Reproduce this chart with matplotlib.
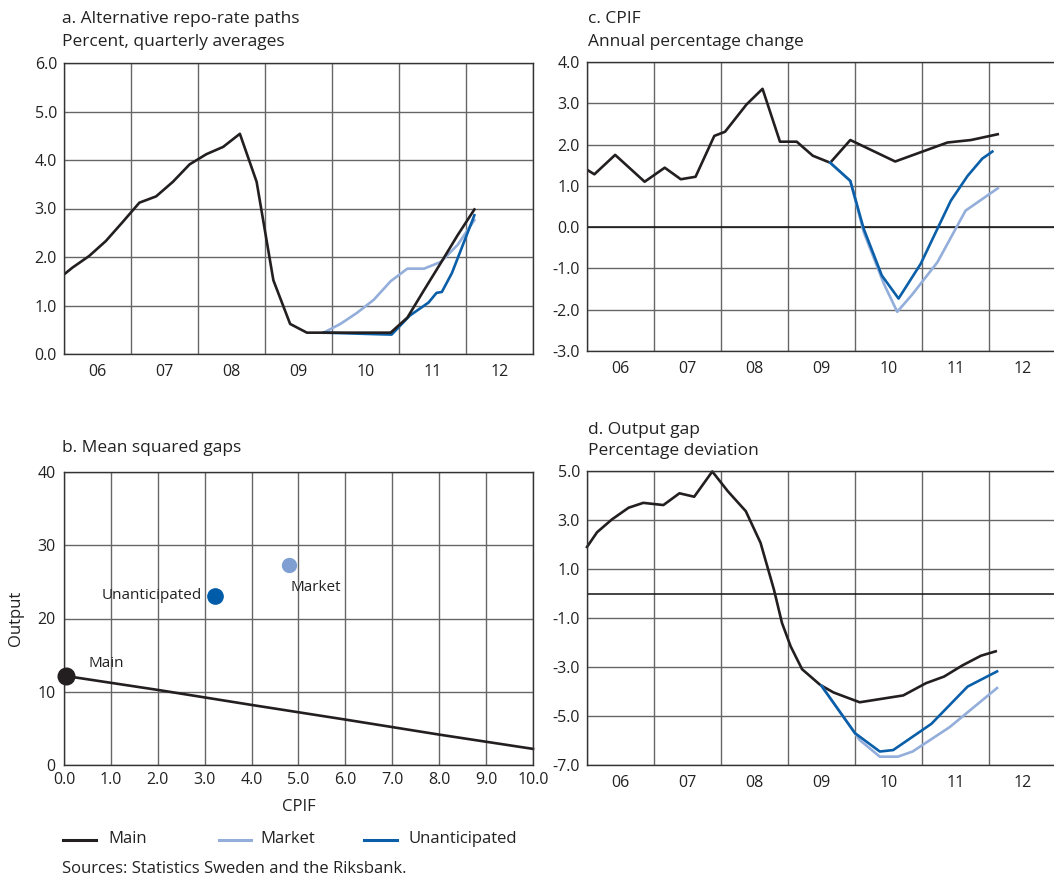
import matplotlib
matplotlib.use("Agg")
from matplotlib import pyplot as plt
from matplotlib.lines import Line2D

plt.rcParams['font.family'] = ['Open Sans', 'DejaVu Sans']

# colours
C_MAIN = '#231f20'
C_MARKET = '#93aedb'
C_UNANT = '#0a5fa8'
C_GRID = '#666666'

# ---- a. repo-rate paths (quarterly averages, mid-quarter positions)
rate_x = [2005.875 + 0.25 * i for i in range(26)]
rate_main = [1.50, 1.78, 2.02, 2.33, 2.72, 3.12, 3.25, 3.55, 3.91, 4.12, 4.27, 4.54, 3.55,
             1.52, 0.62, 0.44, 0.44, 0.44, 0.44, 0.44, 0.44, 0.75, 1.32, 1.88, 2.45, 2.98]
rate_market_x = rate_x[16:]
rate_market = [0.44, 0.62, 0.85, 1.12, 1.50, 1.76, 1.76, 1.90, 2.25, 2.76]
rate_unant_x = [2009.875, 2010.125, 2010.375, 2010.625, 2010.89, 2011.16, 2011.44,
                2011.56, 2011.64, 2011.79, 2012.125]
rate_unant = [0.44, 0.43, 0.42, 0.41, 0.40, 0.79, 1.06, 1.26, 1.28, 1.67, 2.86]

# ---- c. CPIF
cpif_x = [2006.0, 2006.11, 2006.42, 2006.86, 2007.16, 2007.40, 2007.62, 2007.90, 2008.06,
          2008.38, 2008.62, 2008.88, 2009.13, 2009.37, 2009.63, 2009.93, 2010.60, 2011.38,
          2011.73, 2012.13]
cpif_main = [1.39, 1.28, 1.75, 1.10, 1.44, 1.16, 1.22, 2.21, 2.31, 2.97, 3.35, 2.07, 2.07,
             1.73, 1.56, 2.11, 1.59, 2.05, 2.11, 2.25]
cpif_unant_x = [2009.63, 2009.93, 2010.13, 2010.40, 2010.65, 2010.98, 2011.43, 2011.68,
                2011.90, 2012.05]
cpif_unant = [1.56, 1.12, -0.04, -1.17, -1.73, -0.89, 0.64, 1.24, 1.66, 1.83]
cpif_market_x = [2009.63, 2009.93, 2010.13, 2010.43, 2010.63, 2010.85, 2011.23, 2011.65, 2012.13]
cpif_market = [1.56, 1.12, -0.12, -1.37, -2.05, -1.64, -0.85, 0.40, 0.94]

# ---- d. output gap
gap_x = [2006.0, 2006.15, 2006.37, 2006.62, 2006.84, 2007.14, 2007.38, 2007.60, 2007.87,
         2008.10, 2008.37, 2008.59, 2008.79, 2008.91, 2009.04, 2009.21, 2009.48, 2009.68,
         2010.07, 2010.72, 2011.06, 2011.33, 2011.60, 2011.88, 2012.10]
gap_main = [1.90, 2.50, 3.02, 3.50, 3.70, 3.61, 4.09, 3.95, 4.98, 4.18, 3.36, 2.07, 0.16,
            -1.20, -2.16, -3.09, -3.73, -4.04, -4.44, -4.16, -3.66, -3.39, -2.94, -2.54, -2.36]
gap_unant_x = [2009.50, 2010.00, 2010.37, 2010.57, 2011.14, 2011.68, 2012.12]
gap_unant = [-3.77, -5.70, -6.45, -6.39, -5.32, -3.80, -3.18]
gap_market_x = [2009.50, 2010.07, 2010.37, 2010.64, 2010.86, 2011.41, 2012.12]
gap_market = [-3.77, -5.98, -6.66, -6.66, -6.45, -5.46, -3.86]

# ---- b. mean squared gaps
msg_front_x = [0.04, 2.0, 4.0, 6.0, 8.0, 10.0]
msg_front_y = [12.15, 10.25, 8.2, 6.2, 4.15, 2.2]
msg_points = {'Main': (0.04, 12.15), 'Unanticipated': (3.22, 23.1), 'Market': (4.80, 27.3)}

year_labels = ['06', '07', '08', '09', '10', '11', '12']

fig = plt.figure(figsize=(10.54, 8.76), dpi=100)
W, H = 1054.0, 876.0


def add_ax(x0, y0, x1, y1):
    return fig.add_axes([x0 / W, 1 - y1 / H, (x1 - x0) / W, (y1 - y0) / H])


def style(ax):
    for s in ax.spines.values():
        s.set_color('#333333')
        s.set_linewidth(1.0)
    ax.tick_params(which='both', length=0, labelsize=11.5, colors='#222222')
    ax.grid(True, which='major', color=C_GRID, linewidth=1.0)
    ax.set_axisbelow(True)


def time_axis(ax, lo, hi, step, zero=False):
    ax.set_xlim(2006, 2013)
    ax.set_xticks(range(2006, 2014))
    ax.set_xticklabels([])
    ax.set_xticks([2006.5 + i for i in range(7)], minor=True)
    ax.set_xticklabels(year_labels, minor=True)
    ax.tick_params(axis='x', which='minor', pad=7)
    ax.tick_params(axis='y', pad=5)
    ax.set_ylim(lo, hi)
    ticks = []
    v = lo
    while v <= hi + 1e-9:
        ticks.append(round(v, 1))
        v += step
    ax.set_yticks(ticks)
    ax.set_yticklabels(['%.1f' % t for t in ticks])
    if zero:
        ax.axhline(0, color='#111111', linewidth=1.1, zorder=1.5)
    style(ax)


# panel a
ax_a = add_ax(64, 63, 533, 354)
time_axis(ax_a, 0, 6, 1)
ax_a.plot(rate_market_x, rate_market, color=C_MARKET, lw=1.9)
ax_a.plot(rate_unant_x, rate_unant, color=C_UNANT, lw=1.9)
ax_a.plot(rate_x, rate_main, color=C_MAIN, lw=1.9)

# panel c
ax_c = add_ax(587, 62, 1056, 351)
time_axis(ax_c, -3, 4, 1, zero=True)
ax_c.plot(cpif_x, cpif_main, color=C_MAIN, lw=1.9)
ax_c.plot(cpif_market_x, cpif_market, color=C_MARKET, lw=1.9)
ax_c.plot(cpif_unant_x, cpif_unant, color=C_UNANT, lw=1.9)

# panel d
ax_d = add_ax(587, 471, 1056, 765)
time_axis(ax_d, -7, 5, 2, zero=True)
ax_d.plot(gap_x, gap_main, color=C_MAIN, lw=1.9, clip_on=False)
ax_d.plot(gap_market_x, gap_market, color=C_MARKET, lw=1.9)
ax_d.plot(gap_unant_x, gap_unant, color=C_UNANT, lw=1.9)

# panel b
ax_b = add_ax(64, 472, 533, 765)
ax_b.set_xlim(0, 10)
ax_b.set_ylim(0, 40)
ax_b.set_xticks(range(0, 11))
ax_b.set_xticklabels(['%.1f' % v for v in range(0, 11)])
ax_b.set_yticks([0, 10, 20, 30, 40])
style(ax_b)
ax_b.tick_params(axis='x', pad=5)
ax_b.tick_params(axis='y', pad=6)
ax_b.plot(msg_front_x, msg_front_y, color=C_MAIN, lw=1.9, clip_on=False)
ax_b.plot(*msg_points['Main'], 'o', color=C_MAIN, ms=12, clip_on=False, zorder=5)
ax_b.plot(*msg_points['Unanticipated'], 'o', color='#005ca8', ms=11, zorder=5)
ax_b.plot(*msg_points['Market'], 'o', color='#7f9fd3', ms=10, zorder=5)
ax_b.text(0.53, 13.8, 'Main', fontsize=11, va='center', ha='left', color='#222222')
ax_b.text(2.95, 23.1, 'Unanticipated', fontsize=11, va='center', ha='right', color='#222222')
ax_b.text(4.82, 24.3, 'Market', fontsize=11, va='center', ha='left', color='#222222')
ax_b.set_xlabel('CPIF', fontsize=12, labelpad=8, color='#222222')
ax_b.set_ylabel('Output', fontsize=12, labelpad=10, color='#222222')

# titles
tkw = dict(fontsize=12.5, va='center', ha='left', color='#222222')
fig.text(62 / W, 1 - 19 / H, 'a. Alternative repo-rate paths', **tkw)
fig.text(62 / W, 1 - 42 / H, 'Percent, quarterly averages', **tkw)
fig.text(588 / W, 1 - 19 / H, 'c. CPIF', **tkw)
fig.text(588 / W, 1 - 42 / H, 'Annual percentage change', **tkw)
fig.text(62 / W, 1 - 448 / H, 'b. Mean squared gaps', **tkw)
fig.text(588 / W, 1 - 430 / H, 'd. Output gap', **tkw)
fig.text(588 / W, 1 - 451 / H, 'Percentage deviation', **tkw)

# legend
for x0, x1, col, lab, tx in [(63, 96, C_MAIN, 'Main', 108),
                             (219, 251, C_MARKET, 'Market', 260),
                             (364, 397, C_UNANT, 'Unanticipated', 408)]:
    fig.add_artist(Line2D([x0 / W, x1 / W], [1 - 840 / H, 1 - 840 / H], color=col, lw=2.2))
    fig.text(tx / W, 1 - 839 / H, lab, fontsize=12, va='center', ha='left', color='#222222')

fig.text(62 / W, 1 - 869 / H, 'Sources: Statistics Sweden and the Riksbank.', fontsize=12,
         va='center', ha='left', color='#222222')

fig.savefig('out.png', dpi=100)
